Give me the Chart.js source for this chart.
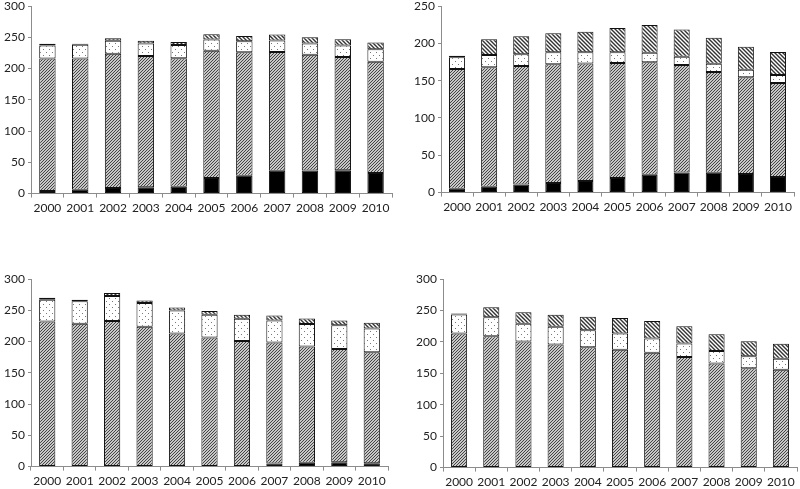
<!DOCTYPE html>
<html>
<head>
<meta charset="utf-8">
<script src="https://cdn.jsdelivr.net/npm/chart.js@4.4.1/dist/chart.umd.min.js"></script>
<style>
  html, body { margin: 0; padding: 0; background: #fff; }
  #wrap { position: relative; width: 800px; height: 489px; overflow: hidden; }
  .panel { position: absolute; }
</style>
</head>
<body>
<div id="wrap">
  <div class="panel" style="left:0;top:-6px;width:400px;height:224px"><canvas id="c1"></canvas></div>
  <div class="panel" style="left:400px;top:-6px;width:400px;height:223px"><canvas id="c2"></canvas></div>
  <div class="panel" style="left:0;top:267px;width:400px;height:224px"><canvas id="c3"></canvas></div>
  <div class="panel" style="left:400px;top:267px;width:400px;height:225px"><canvas id="c4"></canvas></div>
</div>
<script>
// years on the x axis (same for all four panels)
const years = ['2000', '2001', '2002', '2003', '2004', '2005', '2006', '2007', '2008', '2009', '2010'];

// panel 1 (top left)
const p1Black = [4, 6, 9, 10, 11, 25, 28.5, 36.5, 37, 37.5, 33];
const p1Hatch = [212, 210, 214.5, 210, 205.5, 203.5, 197.5, 190, 185, 181, 178];
const p1Dots  = [21, 22, 21, 20, 21, 18, 17.5, 18.5, 18, 18.5, 20];
const p1Top   = [2.5, 1.5, 4, 4.5, 5, 8.5, 8.5, 9.5, 10, 10, 10.5];

// panel 2 (top right)
const p2Black = [5, 8, 11, 13, 15.5, 19.5, 24, 27, 26.5, 25, 21];
const p2Hatch = [160.5, 160, 158.5, 159, 157.5, 154, 150.5, 144, 135, 129.5, 126];
const p2Dots  = [16, 16.5, 16, 16, 15, 14.5, 13, 11, 11, 10, 10.5];
const p2Top   = [2, 21, 24, 25.5, 27.5, 32.5, 37, 36.5, 35, 31, 31];

// panel 3 (bottom left)
const p3Black = [0, 0, 0, 0, 0, 0, 0, 5, 6, 7, 5.5];
const p3Hatch = [232, 228.5, 233, 223.5, 213, 206.5, 201, 193.5, 186, 181, 177.5];
const p3Dots  = [35, 36, 40, 38, 36.5, 36.5, 35.5, 35, 36, 38, 38];
const p3Top   = [3, 2.5, 4.5, 4, 5, 6, 6.5, 8, 9, 7.5, 9];

// panel 4 (bottom right)
const p4Black = [0, 0, 0, 0, 0, 0, 0, 0, 1, 1, 1];
const p4Hatch = [213.5, 209, 200.5, 196, 191.5, 187.5, 182.5, 176, 164.5, 157, 154.5];
const p4Dots  = [30, 30, 28.5, 28, 27, 26, 23, 21.5, 20, 19, 17.5];
const p4Top   = [1.5, 16, 18, 19, 21.5, 24.5, 27.5, 27.5, 26.5, 24, 24];

// motifs
function makeTile(size, draw) {
  const c = document.createElement('canvas');
  c.width = size; c.height = size;
  const g = c.getContext('2d');
  g.fillStyle = '#fff';
  g.fillRect(0, 0, size, size);
  draw(g, size);
  return g.createPattern(c, 'repeat');
}

// fine "////" hatch
const fineHatch = makeTile(3, (g, s) => {
  g.strokeStyle = '#3c3c3c';
  g.lineWidth = 1.1;
  g.beginPath();
  g.moveTo(-1, s + 1); g.lineTo(s + 1, -1);
  g.moveTo(-1, 1); g.lineTo(1, -1);
  g.moveTo(s - 1, s + 1); g.lineTo(s + 1, s - 1);
  g.stroke();
});

// coarse "\\\\" hatch
const coarseHatch = makeTile(4, (g, s) => {
  g.strokeStyle = '#333';
  g.lineWidth = 1.4;
  g.beginPath();
  g.moveTo(-1, -1); g.lineTo(s + 1, s + 1);
  g.moveTo(-1, s - 1); g.lineTo(1, s + 1);
  g.moveTo(s - 1, -1); g.lineTo(s + 1, 1);
  g.stroke();
});

// dots
const dots = makeTile(6, (g) => {
  g.fillStyle = '#777';
  g.fillRect(1, 1, 1, 1);
  g.fillRect(4, 4, 1, 1);
});

const axisGray = '#8c8c8c';
const fontSpec = { family: "Lato, 'Liberation Sans', sans-serif", size: 12 };

function buildChart(id, series, yMax, axisWidth, padRight) {
  const fills = ['#000', fineHatch, dots, coarseHatch];
  return new Chart(document.getElementById(id), {
    type: 'bar',
    data: {
      labels: years,
      datasets: series.map((vals, i) => ({
        data: vals.map(v => (v === 0 ? null : v)),
        backgroundColor: fills[i],
        borderColor: '#111',
        borderWidth: 1,
        borderSkipped: false,
        categoryPercentage: 1,
        barPercentage: 0.5
      }))
    },
    options: {
      responsive: true,
      maintainAspectRatio: false,
      animation: false,
      layout: { padding: { left: 0, right: padRight, top: 12, bottom: 0 } },
      plugins: { legend: { display: false }, tooltip: { enabled: false } },
      scales: {
        x: {
          stacked: true,
          grid: { display: true, drawOnChartArea: false, drawTicks: true, tickLength: 4, color: axisGray, offset: true },
          border: { color: axisGray, width: 1 },
          ticks: { color: '#222', font: fontSpec, padding: 3, maxRotation: 0, autoSkip: false }
        },
        y: {
          stacked: true,
          min: 0,
          max: yMax,
          grid: { display: true, drawOnChartArea: false, drawTicks: true, tickLength: 3, color: axisGray },
          border: { color: axisGray, width: 1 },
          ticks: { color: '#222', font: fontSpec, stepSize: 50, padding: 3 },
          afterFit: (scale) => { scale.width = axisWidth; }
        }
      }
    }
  });
}

buildChart('c1', [p1Black, p1Hatch, p1Dots, p1Top], 300, 31, 8);
buildChart('c2', [p2Black, p2Hatch, p2Dots, p2Top], 250, 41, 6);
buildChart('c3', [p3Black, p3Hatch, p3Dots, p3Top], 300, 31, 12);
buildChart('c4', [p4Black, p4Hatch, p4Dots, p4Top], 300, 43, 3);
</script>
</body>
</html>
